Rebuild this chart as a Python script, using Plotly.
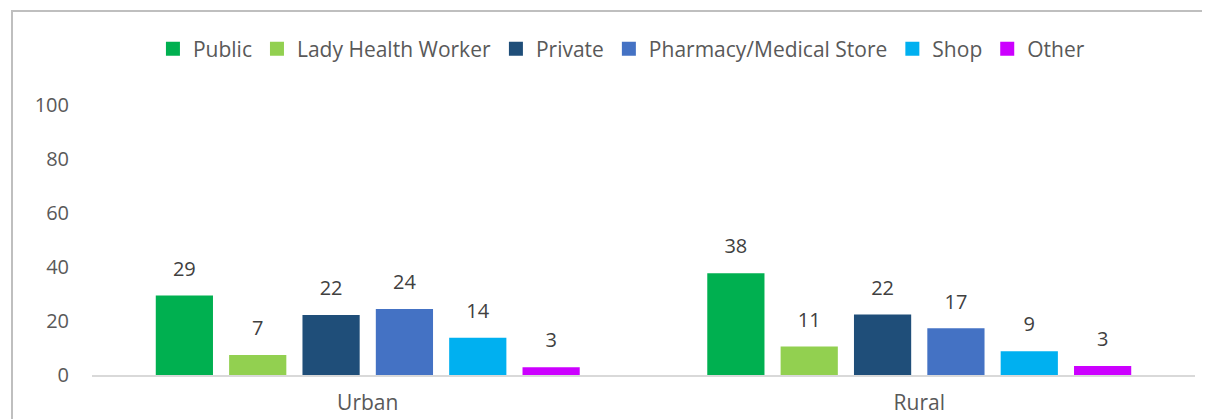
import plotly.graph_objects as go

categories = ["Urban", "Rural"]
series_names = ["Public", "Lady Health Worker", "Private", "Pharmacy/Medical Store", "Shop", "Other"]
public = [29.4, 37.7]
lady_health_worker = [7.4, 10.6]
private = [22.2, 22.4]
pharmacy = [24.4, 17.3]
shop = [13.8, 8.8]
other = [2.9, 3.3]
y_ticks = [0, 20, 40, 60, 80, 100]

series_values = [public, lady_health_worker, private, pharmacy, shop, other]
colors = ["#00B050", "#92D050", "#1F4E79", "#4472C4", "#00B0F0", "#CC00FF"]

FONT = "Open Sans"
fig = go.Figure()
for i, (name, vals, col) in enumerate(zip(series_names, series_values, colors)):
    fig.add_trace(go.Bar(
        x=categories, y=vals, name=name, marker=dict(color=col, line=dict(width=0)),
        offsetgroup=str(i), hoverinfo="skip", showlegend=False,
    ))
for i, (name, vals) in enumerate(zip(series_names, series_values)):
    fig.add_trace(go.Scatter(
        x=categories, y=vals, mode="markers+text", showlegend=False,
        offsetgroup=str(i), text=[f"{v:.0f}" for v in vals],
        textposition="top center",
        textfont=dict(family=FONT, size=20, color="#404040"),
        marker=dict(size=22, color="rgba(0,0,0,0)"), hoverinfo="skip",
    ))
# legend entries (square swatches)
for i, (name, col) in enumerate(zip(series_names, colors)):
    fig.add_trace(go.Scatter(
        x=categories, y=[None, None], mode="markers", name=name, offsetgroup=str(i),
        marker=dict(symbol="square", size=14, color=col), hoverinfo="skip",
    ))

# page body has an 8px margin, so the figure is sized/placed accordingly
fig.update_layout(
    width=1202, height=411,
    margin=dict(l=84, r=15, t=97, b=44, autoexpand=False),
    paper_bgcolor="white", plot_bgcolor="white",
    barmode="group", bargap=0.202, bargroupgap=0.22,
    scattermode="group", scattergap=0.202,
    font=dict(family=FONT, size=20, color="#595959"),
    showlegend=True,
    legend=dict(orientation="h", x=0.48, xanchor="center", y=1.207, yanchor="middle",
                font=dict(family=FONT, size=21, color="#595959"), traceorder="normal",
                itemsizing="trace", itemclick=False, itemdoubleclick=False),
    xaxis=dict(showgrid=False, showline=True, linecolor="#D9D9D9", linewidth=2,
               ticks="", tickfont=dict(family=FONT, size=21, color="#595959"),
               ticklabelstandoff=8),
    yaxis=dict(range=[0, 100], tickvals=y_ticks, showgrid=False, zeroline=False,
               showline=False, ticks="", ticklabelstandoff=22,
               tickfont=dict(family=FONT, size=20, color="#595959")),
    shapes=[dict(type="rect", xref="paper", yref="paper",
                 x0=(12 - 92) / 1103, x1=(1207 - 92) / 1103,
                 y0=-0.25, y1=(375 - 11) / 270,
                 line=dict(color="#BFBFBF", width=2), fillcolor="rgba(0,0,0,0)", layer="below")],
)

fig.write_html("out.html")
